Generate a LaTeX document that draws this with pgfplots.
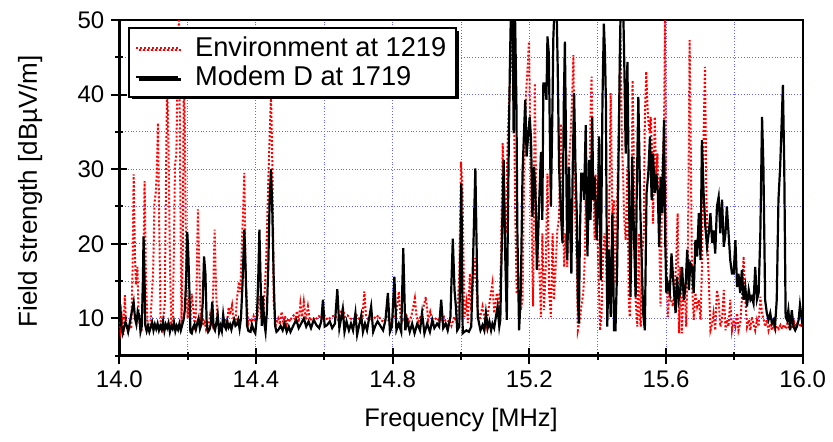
\documentclass[border=0pt]{standalone}
\usepackage{pgfplots}
\pgfplotsset{compat=1.18}
\usepackage{fontspec}
\setmainfont{Liberation Sans}
\usetikzlibrary{shadows}
\begin{document}
\begin{tikzpicture}[font=\fontsize{12.5}{15}\selectfont]
\begin{axis}[
  scale only axis,
  width=341.7pt, height=167.85pt,
  xmin=14, xmax=16, ymin=5, ymax=50,
  xtick={14,14.4,14.8,15.2,15.6,16},
  minor xtick={14.2,14.6,15.0,15.4,15.8},
  ytick={10,20,30,40,50},
  minor ytick={5,15,25,35,45},
  tick pos=left,
  tick align=center,
  major tick length=8pt, minor tick length=4pt,
  every tick/.style={black, line width=1pt},
  axis line style={line width=1.2pt},
  grid=both,
  major grid style={blue!60, densely dotted, line width=0.5pt},
  minor grid style={blue!60, densely dotted, line width=0.5pt},
  /pgf/number format/assume math mode=true,
  xticklabel style={font=\fontsize{12}{14}\selectfont, /pgf/number format/.cd, fixed, fixed zerofill, precision=1},
  yticklabel style={font=\fontsize{12}{14}\selectfont},
  xlabel={Frequency [MHz]},
  ylabel={Field strength [dBµV/m]},
  xlabel style={at={(axis description cs:0.5,-0.192)}, anchor=center, font=\fontsize{12.7}{15}\selectfont},
  ylabel style={at={(axis description cs:-0.1305,0.49)}, anchor=center, font=\fontsize{13}{15}\selectfont},
  no markers,
  legend cell align=left,
  legend style={at={(axis description cs:0,1)}, anchor=north west, xshift=4.35pt, yshift=-3.5pt,
    draw=black, line width=1pt, fill=white,
    drop shadow={shadow xshift=1.3pt, shadow yshift=-1.3pt, fill=black, opacity=1},
    inner xsep=3pt, inner ysep=2.2pt, row sep=-0.8pt,
    font=\fontsize{13.6}{15}\selectfont},
  legend image code/.code={\draw[#1] (0pt,0pt) -- (21pt,0pt); \path (0pt,-6.5pt) (27pt,6.5pt);},
]
\addplot[red, densely dotted, line width=1pt] coordinates {
(14.000,9.5)(14.004,8.2)(14.008,9.8)(14.012,7.8)(14.016,13.1)(14.020,9.0)(14.025,8.3)(14.030,9.1)(14.035,8.6)(14.039,17.0)(14.042,29.3)(14.046,18.0)(14.049,14.5)(14.053,16.9)(14.057,10.0)(14.061,9.0)(14.065,8.2)(14.070,15.0)(14.074,28.4)(14.078,15.0)(14.083,9.1)(14.087,8.4)(14.091,9.1)(14.095,13.0)(14.099,16.0)(14.103,25.5)(14.107,27.0)(14.110,30.0)(14.113,36.2)(14.117,22.0)(14.121,9.1)(14.125,8.6)(14.129,10.0)(14.133,12.0)(14.137,30.0)(14.140,42.0)(14.144,33.0)(14.148,18.0)(14.152,9.1)(14.156,8.8)(14.160,19.9)(14.163,30.6)(14.167,32.0)(14.171,45.0)(14.175,51.0)(14.178,30.0)(14.182,9.1)(14.186,20.0)(14.189,44.0)(14.192,35.0)(14.196,14.5)(14.200,10.0)(14.204,12.8)(14.208,9.5)(14.212,13.3)(14.217,11.0)(14.222,8.3)(14.226,13.6)(14.230,24.6)(14.234,17.0)(14.238,10.0)(14.242,10.9)(14.246,9.1)(14.250,9.5)(14.254,8.5)(14.258,9.0)(14.262,9.2)(14.266,10.5)(14.271,9.5)(14.275,14.0)(14.279,21.9)(14.283,14.0)(14.287,10.0)(14.291,9.0)(14.296,8.6)(14.300,9.3)(14.305,9.0)(14.310,9.9)(14.315,9.2)(14.320,11.5)(14.324,10.5)(14.330,11.8)(14.334,10.0)(14.340,9.2)(14.344,12.5)(14.350,14.9)(14.354,13.5)(14.359,20.0)(14.366,29.5)(14.370,15.0)(14.377,9.2)(14.383,10.0)(14.388,9.5)(14.393,10.3)(14.398,9.6)(14.404,10.0)(14.410,13.0)(14.414,10.5)(14.420,9.5)(14.426,14.0)(14.430,18.0)(14.437,30.0)(14.444,40.0)(14.448,30.5)(14.452,12.0)(14.458,9.1)(14.465,10.0)(14.470,9.2)(14.475,10.9)(14.480,9.5)(14.485,10.3)(14.490,9.2)(14.495,10.0)(14.500,9.6)(14.505,10.2)(14.510,10.4)(14.515,9.8)(14.520,11.0)(14.525,9.5)(14.530,12.0)(14.535,10.2)(14.540,12.2)(14.546,9.8)(14.552,11.6)(14.558,9.7)(14.566,10.1)(14.574,9.8)(14.584,10.3)(14.592,9.9)(14.600,10.4)(14.610,9.8)(14.620,10.2)(14.630,10.4)(14.640,9.8)(14.650,11.0)(14.655,11.3)(14.660,10.2)(14.668,10.4)(14.676,10.0)(14.685,9.8)(14.695,10.4)(14.705,9.7)(14.712,10.2)(14.717,13.6)(14.722,10.4)(14.730,9.7)(14.740,10.4)(14.750,10.0)(14.758,10.4)(14.765,9.8)(14.775,9.5)(14.783,10.2)(14.792,9.3)(14.800,10.2)(14.810,10.4)(14.818,13.6)(14.823,10.2)(14.830,9.6)(14.840,10.4)(14.848,9.5)(14.855,10.4)(14.860,11.5)(14.865,12.7)(14.870,10.2)(14.876,9.6)(14.886,10.7)(14.897,12.9)(14.904,9.8)(14.910,10.9)(14.918,9.5)(14.928,10.1)(14.938,9.6)(14.950,10.2)(14.958,9.2)(14.965,9.8)(14.972,9.0)(14.980,10.2)(14.988,9.4)(14.995,16.0)(15.000,31.0)(15.004,28.0)(15.010,10.2)(15.016,12.2)(15.020,9.4)(15.026,16.0)(15.030,11.0)(15.036,15.1)(15.041,18.1)(15.044,15.1)(15.049,11.1)(15.054,9.8)(15.063,11.6)(15.073,8.9)(15.083,12.0)(15.092,14.7)(15.097,10.7)(15.105,13.4)(15.112,11.6)(15.117,17.8)(15.122,33.5)(15.126,25.9)(15.131,21.4)(15.136,32.6)(15.141,39.7)(15.146,43.7)(15.151,48.2)(15.156,34.8)(15.159,23.6)(15.163,13.4)(15.170,13.8)(15.175,11.1)(15.180,12.5)(15.185,30.3)(15.190,39.7)(15.195,43.7)(15.199,47.1)(15.204,30.3)(15.207,21.4)(15.211,11.6)(15.216,41.5)(15.220,25.9)(15.224,19.2)(15.229,16.9)(15.234,10.2)(15.238,21.4)(15.243,11.1)(15.248,16.9)(15.253,29.4)(15.258,13.4)(15.263,10.2)(15.268,21.4)(15.272,12.5)(15.277,16.9)(15.282,21.8)(15.287,23.6)(15.292,36.1)(15.297,25.9)(15.302,16.9)(15.306,21.4)(15.311,16.9)(15.316,30.8)(15.321,34.8)(15.326,40.6)(15.329,45.3)(15.333,25.9)(15.339,16.9)(15.342,8.4)(15.348,9.8)(15.352,11.6)(15.358,13.4)(15.362,17.8)(15.365,25.9)(15.370,19.6)(15.375,25.9)(15.379,37.5)(15.382,42.4)(15.386,30.3)(15.391,20.5)(15.394,29.4)(15.399,21.4)(15.402,16.9)(15.407,8.4)(15.411,10.2)(15.416,19.2)(15.420,21.4)(15.425,16.9)(15.428,12.5)(15.433,21.4)(15.438,40.2)(15.443,24.1)(15.448,25.9)(15.450,14.7)(15.455,21.4)(15.459,30.3)(15.463,39.3)(15.467,48.2)(15.471,33.0)(15.474,30.3)(15.477,23.6)(15.482,20.5)(15.487,30.3)(15.491,12.5)(15.494,10.2)(15.498,16.9)(15.502,41.9)(15.506,30.3)(15.511,12.5)(15.516,8.9)(15.521,21.4)(15.523,10.2)(15.526,8.9)(15.530,18.7)(15.535,21.4)(15.538,37.0)(15.542,43.1)(15.547,37.0)(15.552,34.8)(15.555,37.0)(15.559,32.6)(15.562,22.7)(15.567,37.0)(15.571,29.4)(15.575,32.1)(15.580,21.4)(15.584,11.6)(15.589,30.3)(15.594,34.8)(15.597,50.0)(15.601,21.4)(15.605,10.2)(15.610,13.4)(15.615,12.5)(15.620,11.6)(15.625,13.4)(15.630,17.8)(15.634,24.1)(15.638,8.0)(15.642,16.9)(15.646,8.0)(15.650,12.5)(15.654,14.7)(15.659,8.9)(15.664,18.7)(15.667,34.8)(15.669,47.3)(15.673,30.3)(15.676,14.7)(15.681,9.8)(15.686,13.4)(15.691,11.6)(15.696,12.5)(15.701,9.8)(15.705,16.9)(15.710,34.8)(15.714,43.7)(15.718,26.8)(15.722,18.7)(15.726,14.2)(15.730,8.4)(15.735,9.3)(15.739,10.7)(15.744,8.4)(15.749,13.8)(15.754,12.5)(15.759,8.9)(15.764,9.8)(15.769,13.8)(15.774,8.4)(15.778,9.8)(15.783,8.9)(15.788,12.5)(15.793,8.4)(15.798,9.8)(15.803,8.9)(15.808,10.7)(15.812,8.4)(15.817,9.3)(15.822,12.5)(15.827,18.3)(15.832,12.5)(15.837,8.9)(15.842,9.8)(15.847,8.4)(15.851,10.2)(15.856,9.3)(15.861,8.4)(15.866,9.8)(15.871,8.9)(15.876,12.9)(15.881,10.7)(15.886,9.8)(15.890,8.9)(15.895,9.8)(15.900,8.4)(15.905,9.3)(15.910,8.4)(15.915,9.1)(15.920,8.4)(15.925,9.0)(15.930,8.6)(15.935,9.1)(15.940,8.6)(15.945,9.2)(15.950,8.6)(15.955,9.3)(15.960,8.6)(15.965,9.1)(15.970,8.6)(15.975,9.5)(15.980,8.7)(15.985,9.4)(15.990,9.3)(15.995,8.8)(16.000,9.4)
};
\addlegendentry{Environment at 1219}
\addplot[black, solid, line width=1.1pt] coordinates {
(14.000,12.0)(14.003,11.8)(14.006,9.0)(14.010,8.0)(14.014,8.8)(14.018,9.5)(14.022,9.0)(14.026,8.2)(14.030,9.2)(14.035,10.5)(14.039,11.5)(14.042,12.2)(14.046,10.0)(14.050,9.2)(14.054,11.0)(14.058,10.5)(14.062,8.2)(14.066,9.0)(14.069,15.0)(14.071,21.0)(14.074,15.0)(14.076,9.1)(14.080,8.3)(14.084,9.0)(14.088,8.2)(14.092,8.8)(14.096,9.5)(14.100,8.4)(14.104,9.2)(14.108,8.6)(14.112,9.3)(14.116,8.4)(14.120,9.0)(14.124,8.5)(14.128,9.6)(14.132,8.3)(14.136,9.2)(14.140,8.7)(14.144,9.4)(14.148,8.2)(14.152,9.0)(14.156,8.6)(14.160,9.5)(14.164,8.3)(14.168,9.0)(14.172,8.5)(14.176,9.3)(14.180,8.4)(14.184,9.1)(14.188,9.8)(14.192,11.2)(14.196,16.0)(14.199,21.6)(14.202,18.5)(14.205,14.0)(14.208,8.2)(14.212,8.0)(14.216,8.8)(14.220,9.2)(14.224,8.5)(14.228,9.3)(14.232,10.0)(14.236,8.6)(14.240,9.2)(14.244,12.0)(14.248,18.3)(14.252,16.0)(14.256,9.0)(14.260,8.2)(14.264,8.5)(14.268,9.3)(14.272,12.2)(14.276,8.8)(14.280,8.4)(14.284,9.4)(14.288,10.5)(14.292,8.2)(14.296,9.0)(14.300,8.3)(14.304,10.5)(14.308,9.0)(14.312,8.6)(14.316,9.6)(14.320,8.8)(14.324,9.2)(14.328,8.5)(14.332,9.3)(14.336,9.8)(14.340,9.0)(14.344,9.2)(14.348,9.8)(14.352,8.6)(14.356,10.0)(14.360,14.0)(14.366,21.9)(14.370,16.0)(14.374,9.0)(14.378,8.3)(14.384,8.2)(14.388,9.2)(14.393,8.4)(14.398,8.0)(14.403,10.5)(14.407,16.0)(14.410,21.9)(14.414,14.0)(14.417,9.0)(14.420,13.0)(14.424,9.5)(14.428,8.2)(14.432,11.0)(14.436,17.0)(14.440,26.0)(14.444,30.0)(14.448,24.0)(14.452,15.0)(14.456,9.0)(14.460,8.2)(14.466,8.5)(14.472,9.0)(14.478,8.4)(14.484,9.3)(14.490,8.2)(14.496,8.9)(14.501,8.2)(14.510,9.1)(14.518,9.8)(14.525,8.7)(14.532,9.3)(14.540,10.0)(14.547,8.9)(14.554,9.6)(14.561,8.7)(14.569,9.8)(14.577,9.1)(14.585,8.7)(14.591,9.6)(14.596,12.5)(14.601,8.9)(14.608,9.1)(14.616,9.6)(14.623,8.7)(14.631,9.3)(14.638,13.9)(14.644,8.7)(14.649,10.0)(14.654,11.3)(14.659,8.2)(14.665,9.6)(14.672,8.4)(14.678,9.3)(14.684,8.4)(14.691,10.7)(14.696,7.8)(14.702,9.1)(14.708,10.4)(14.713,8.2)(14.719,9.3)(14.725,8.4)(14.731,10.0)(14.737,11.6)(14.743,8.2)(14.750,9.1)(14.756,9.6)(14.764,9.0)(14.772,8.4)(14.779,9.8)(14.786,13.4)(14.792,8.2)(14.798,8.9)(14.805,15.6)(14.811,8.4)(14.818,9.3)(14.825,8.2)(14.831,19.4)(14.837,8.4)(14.842,9.8)(14.850,8.2)(14.857,9.3)(14.864,8.0)(14.872,9.3)(14.880,8.4)(14.886,10.7)(14.893,8.0)(14.901,9.3)(14.909,8.2)(14.916,9.8)(14.922,8.7)(14.930,9.3)(14.936,8.9)(14.942,12.5)(14.948,8.7)(14.955,9.3)(14.961,8.4)(14.969,10.2)(14.976,20.7)(14.981,13.8)(14.985,11.6)(14.989,8.4)(14.995,8.9)(15.001,28.1)(15.005,8.0)(15.010,8.2)(15.016,8.4)(15.023,8.2)(15.030,8.9)(15.036,19.2)(15.042,30.1)(15.049,10.2)(15.057,8.4)(15.063,9.1)(15.068,8.4)(15.073,10.7)(15.078,8.7)(15.083,9.6)(15.088,8.4)(15.092,9.3)(15.097,8.7)(15.102,10.2)(15.107,11.6)(15.112,8.9)(15.115,9.8)(15.120,21.4)(15.125,31.2)(15.129,19.2)(15.134,9.8)(15.139,30.3)(15.143,43.7)(15.146,51.0)(15.151,51.0)(15.154,34.8)(15.158,51.0)(15.162,39.3)(15.165,21.4)(15.170,8.4)(15.175,13.4)(15.180,29.4)(15.185,35.7)(15.188,39.3)(15.192,31.7)(15.197,34.8)(15.201,37.0)(15.205,33.9)(15.209,23.6)(15.214,30.3)(15.218,26.8)(15.222,16.5)(15.226,21.4)(15.229,25.9)(15.234,32.3)(15.238,23.2)(15.241,41.5)(15.246,41.5)(15.250,39.3)(15.253,47.8)(15.257,45.5)(15.260,34.8)(15.263,25.0)(15.268,39.3)(15.270,47.3)(15.273,51.0)(15.280,51.0)(15.283,43.7)(15.287,30.3)(15.292,24.5)(15.297,20.1)(15.301,39.3)(15.304,47.1)(15.307,34.8)(15.311,17.8)(15.316,30.3)(15.320,21.4)(15.323,16.0)(15.327,30.3)(15.331,40.2)(15.335,30.3)(15.339,23.6)(15.342,12.5)(15.345,9.3)(15.348,21.4)(15.352,29.4)(15.356,29.4)(15.360,25.9)(15.365,35.9)(15.370,18.3)(15.375,31.2)(15.379,23.2)(15.384,37.0)(15.387,25.9)(15.391,29.0)(15.397,20.5)(15.401,25.9)(15.404,34.4)(15.409,15.1)(15.414,39.3)(15.418,49.5)(15.421,46.0)(15.424,39.3)(15.428,8.9)(15.433,19.2)(15.438,10.2)(15.443,24.1)(15.448,8.4)(15.452,8.4)(15.457,16.9)(15.462,34.8)(15.465,46.0)(15.467,51.0)(15.475,51.0)(15.478,43.7)(15.482,32.1)(15.487,44.4)(15.491,28.1)(15.496,12.9)(15.501,31.7)(15.506,21.4)(15.511,12.9)(15.514,25.9)(15.519,39.7)(15.525,24.1)(15.533,10.7)(15.538,8.4)(15.543,26.8)(15.548,29.4)(15.553,34.4)(15.558,25.9)(15.562,32.1)(15.567,26.8)(15.572,29.4)(15.576,26.8)(15.580,19.6)(15.584,29.0)(15.589,24.1)(15.594,36.6)(15.598,19.6)(15.601,13.4)(15.605,14.7)(15.611,13.4)(15.616,18.7)(15.623,13.8)(15.628,10.7)(15.632,15.6)(15.637,12.5)(15.642,13.8)(15.647,16.9)(15.652,12.5)(15.657,14.2)(15.662,19.2)(15.667,13.8)(15.671,17.4)(15.676,16.9)(15.681,13.4)(15.686,20.5)(15.691,18.3)(15.696,24.1)(15.701,17.8)(15.705,33.9)(15.710,26.8)(15.715,22.3)(15.720,19.6)(15.725,21.4)(15.730,24.1)(15.735,20.1)(15.739,21.8)(15.744,18.7)(15.749,25.0)(15.754,26.3)(15.759,21.4)(15.764,25.9)(15.769,19.6)(15.774,21.4)(15.778,25.0)(15.783,21.4)(15.788,17.8)(15.793,16.0)(15.798,16.0)(15.803,20.5)(15.808,14.2)(15.812,16.0)(15.817,13.4)(15.822,16.5)(15.827,12.5)(15.832,14.2)(15.837,11.6)(15.842,13.8)(15.847,12.5)(15.851,12.9)(15.856,12.0)(15.861,16.9)(15.866,12.5)(15.871,13.4)(15.876,21.4)(15.881,37.0)(15.885,30.3)(15.890,12.5)(15.895,10.7)(15.900,9.8)(15.905,10.7)(15.910,9.3)(15.915,9.8)(15.919,8.9)(15.924,12.5)(15.929,25.9)(15.934,30.3)(15.939,37.0)(15.942,41.3)(15.946,30.3)(15.950,10.2)(15.954,9.8)(15.958,11.1)(15.963,8.4)(15.968,11.1)(15.973,8.9)(15.978,8.4)(15.983,8.9)(15.988,9.8)(15.992,11.8)(16.000,8.9)
};
\addlegendentry{Modem D at 1719}
\end{axis}
\pgfresetboundingbox
\path[use as bounding box] ([shift={(-59.65pt,-43.15pt)}]current axis.south west) rectangle ([shift={(15.15pt,10pt)}]current axis.north east);
\end{tikzpicture}
\end{document}
